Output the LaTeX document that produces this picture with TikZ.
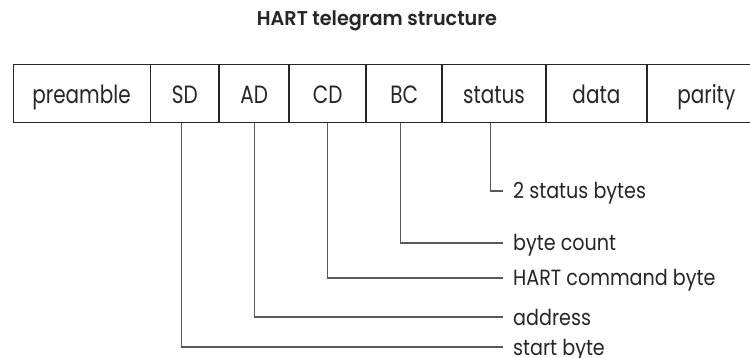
\documentclass[tikz,border=0pt]{standalone}
\usepackage{fontspec}
\setmainfont{Poppins}
\newfontfamily\cellfont[FakeStretch=0.8]{Poppins}
\newfontfamily\lblfont[FakeStretch=0.87]{Poppins}
\newfontfamily\titlefont[FakeStretch=0.96]{Poppins SemiBold}
\begin{document}
\begin{tikzpicture}[x=1pt,y=-1pt,
  cell/.style={draw=black!85, line width=0.9pt, minimum height=58.5pt, inner sep=0pt,
    text height=21pt, text depth=0pt,
    font=\cellfont\fontsize{25}{27}\selectfont, text=black!85},
  conn/.style={draw=black!65, line width=1.1pt},
  lbl/.style={anchor=west, inner xsep=10pt, inner ysep=0pt, text height=16pt, text depth=0pt,
    font=\lblfont\fontsize{22}{24}\selectfont, text=black!85}]
\useasboundingbox (0,0) rectangle (750,358);
\fill[white] (0,0) rectangle (750,358);
\node[font=\titlefont\fontsize{20}{22}\selectfont, text=black!85] (title) at (377,21) {HART telegram structure};
\node[cell, minimum width=137pt] (pre) at (81.5,93.3) {preamble};
\node[cell, minimum width=68pt, anchor=west] (sd) at (pre.east) {SD};
\node[cell, minimum width=69pt, anchor=west] (ad) at (sd.east) {AD};
\node[cell, minimum width=76pt, anchor=west] (cd) at (ad.east) {CD};
\node[cell, minimum width=75pt, anchor=west] (bc) at (cd.east) {BC};
\node[cell, minimum width=103pt, anchor=west] (st) at (bc.east) {status};
\node[cell, minimum width=100pt, anchor=west] (da) at (st.east) {data};
\node[cell, minimum width=118pt, anchor=west] (pa) at (da.east) {parity};
\node[lbl] (l1) at (503,191) {2 status bytes};
\node[lbl] (l2) at (503,243) {byte count};
\node[lbl] (l3) at (503,278) {HART command byte};
\node[lbl] (l4) at (503,317) {address};
\node[lbl] (l5) at (503,347) {start byte};
\draw[conn] ([xshift=-3.5pt]st.south) |- (l1.west);
\draw[conn] ([xshift=-3.5pt]bc.south) |- (l2.west);
\draw[conn] (cd.south) |- (l3.west);
\draw[conn] (ad.south) |- (l4.west);
\draw[conn] ([xshift=-3pt]sd.south) |- (l5.west);
\end{tikzpicture}
\end{document}
